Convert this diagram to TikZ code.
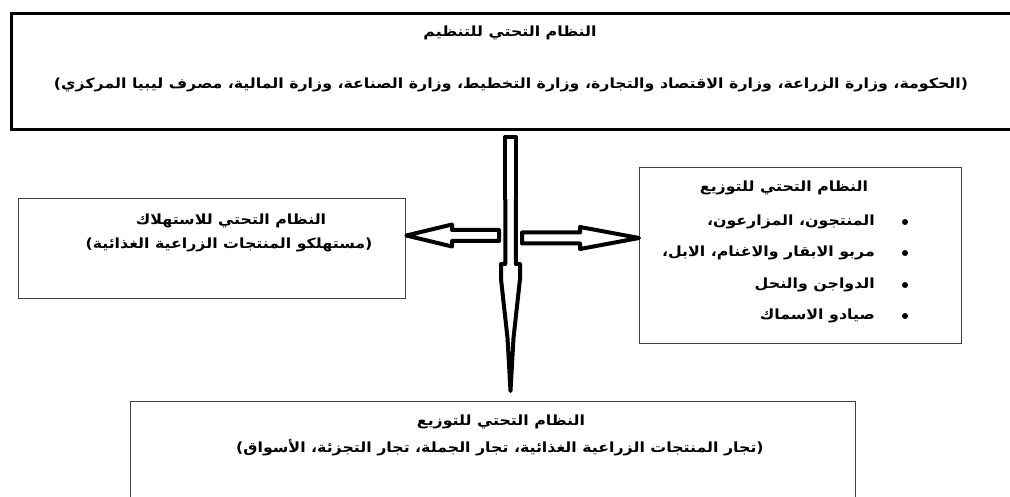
\documentclass[tikz,border=0pt]{standalone}
\usepackage{fontspec}
\TeXXeTstate=1
\newfontfamily\arabicfont[Script=Arabic]{DejaVu Sans}
\newcommand{\AR}[1]{\scalebox{1.13}[1]{\beginR #1\endR}}
\begin{document}
\begin{tikzpicture}[x=1pt,y=-1pt,
  ar/.style={font=\arabicfont\bfseries\fontsize{14}{16}\selectfont, inner sep=0pt},
  bigbox/.style={draw=black, line width=3pt, anchor=north west},
  box/.style={draw=black!75, line width=1.4pt, anchor=north west},
  blk/.style={draw=black, line width=4pt, fill=white, line join=round},
  bul/.style={circle, fill=black, inner sep=0pt, minimum size=6pt}]
\useasboundingbox (0,0) rectangle (1010,497);
% boxes
\node[bigbox, minimum width=1010pt, minimum height=116pt] (top) at (10,12) {};
\node[box, minimum width=387pt, minimum height=100pt] (left) at (18,198) {};
\node[box, minimum width=322pt, minimum height=176pt] (right) at (639,167) {};
\node[box, minimum width=725pt, minimum height=110pt] (bottom) at (130,401) {};
% texts
\node[ar] (toptitle) at (510,33) {\AR{النظام التحتي للتنظيم}};
\node[ar] (topline) at (511,85) {\AR{(الحكومة، وزارة الزراعة، وزارة الاقتصاد والتجارة، وزارة التخطيط، وزارة الصناعة، وزارة المالية، مصرف ليبيا المركزي)}};
\node[ar] (lefttitle) at (231,221) {\AR{النظام التحتي للاستهلاك}};
\node[ar] (leftline) at (229,245) {\AR{(مستهلكو المنتجات الزراعية الغذائية)}};
\node[ar] (righttitle) at (784,188) {\AR{النظام التحتي للتوزيع}};
\node[ar, anchor=east] (r1) at (875,222) {\AR{المنتجون، المزارعون،}};
\node[ar, anchor=east] (r2) at (875,253) {\AR{مربو الابقار والاغنام، الابل،}};
\node[ar, anchor=east] (r3) at (875,285) {\AR{الدواجن والنحل}};
\node[ar, anchor=east] (r4) at (875,316) {\AR{صيادو الاسماك}};
\node[bul] (b1) at (905,222) {};
\node[bul] (b2) at (905,253) {};
\node[bul] (b3) at (905,285) {};
\node[bul] (b4) at (905,316) {};
\node[ar] (bottitle) at (501,422) {\AR{النظام التحتي للتوزيع}};
\node[ar] (botline) at (500,448) {\AR{(تجار المنتجات الزراعية الغذائية، تجار الجملة، تجار التجزئة، الأسواق)}};
% arrows
\coordinate (hub) at (510.5,235.5);
\coordinate (ltip) at (left.east |- hub);
\coordinate (rtip) at (right.west |- 0,238);
\coordinate (btip) at (hub |- 0,391);
\draw[blk] (499,230) -- (452,230) -- (452,224.5) -- (ltip) -- (452,246.5) -- (452,241) -- (499,241) -- cycle;
\draw[blk] (522,232.5) -- (580,232.5) -- (580,227) -- (rtip) -- (580,249) -- (580,243.5) -- (522,243.5) -- cycle;
\draw[blk] (505.25,200) -- (505.25,137) -- (515.75,137) -- (515.75,200);
\draw[blk] (515.75,199) -- (515.75,264) -- (520,264) -- (520,279) -- (513.5,338) -- (btip) -- (507.5,338) -- (501,279) -- (501,264) -- (505.25,264) -- (505.25,199);
\end{tikzpicture}
\end{document}
